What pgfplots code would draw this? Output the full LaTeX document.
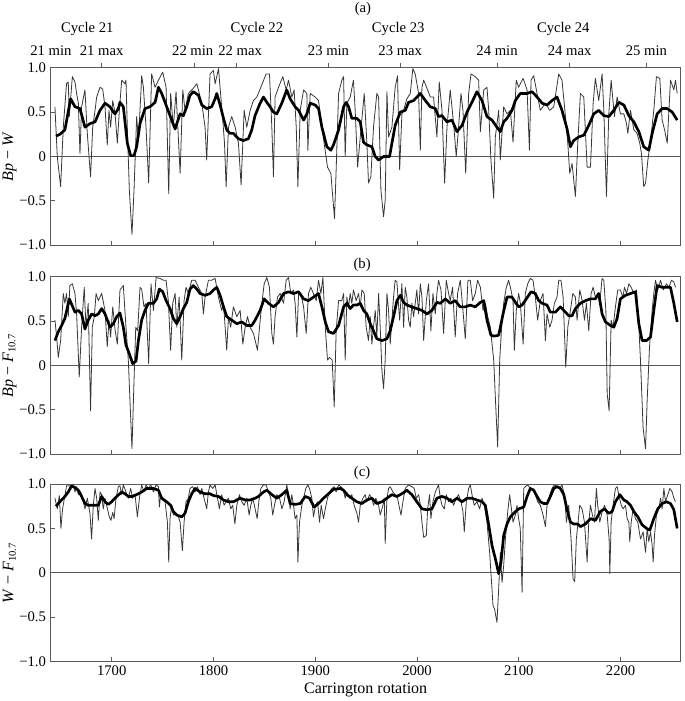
\documentclass[border=0pt]{standalone}
\usepackage{fontspec}
\setmainfont{Liberation Serif}
\usepackage{pgfplots}
\pgfplotsset{compat=1.18}
\definecolor{frame}{RGB}{90,90,90}
\definecolor{thinc}{RGB}{55,55,55}
\newcommand{\tfont}{\fontsize{11}{13}\selectfont}
\newcommand{\lfont}{\fontsize{12}{14}\selectfont}
\pgfplotsset{
  panel/.style={
    scale only axis, width=472.5pt, height=133.1pt,
    anchor=north west,
    xmin=1640, xmax=2259, ymin=-1, ymax=1,
    axis line style={frame, line width=0.7pt},
    tick align=inside, xtick pos=left, ytick pos=left,
    major tick length=3.2pt,
    tick style={frame, line width=0.7pt},
    xtick={1700,1800,1900,2000,2100,2200},
    xticklabels={},
    ytick={-1,-0.5,0,0.5,1},
    yticklabels={−1.0,−0.5,0,0.5,1.0},
    tick label style={font=\tfont},
    label style={font=\lfont},
    ylabel style={at={(axis description cs:-0.0654,0.5)}, anchor=center},
  },
  thinl/.style={thinc, line width=0.6pt, line join=round},
  thickl/.style={black, line width=2pt, line join=round},
  zerol/.style={frame, line width=0.6pt},
}
\begin{document}
\begin{tikzpicture}
\useasboundingbox (0,0) rectangle (513.75pt,-525.75pt);
% ---------------- (a)
\begin{axis}[panel, at={(38pt,-50.8pt)}, ylabel={\textit{Bp} − \textit{W}}]
\addplot[zerol] coordinates {(1640,0) (2259,0)};
\addplot[thinl] coordinates {(1644.2,0.56)(1646.5,0.00)(1649.8,-0.34)(1652.4,0.33)(1655.6,0.82)(1657.3,0.84)(1658.3,0.45)(1661.3,0.90)(1663.9,0.84)(1665.5,0.71)(1667.2,0.60)(1668.8,0.03)(1670.4,0.56)(1673.7,0.75)(1676.0,0.26)(1679.2,-0.23)(1681.3,0.33)(1683.6,0.52)(1685.2,0.67)(1688.5,0.78)(1691.1,0.76)(1693.4,0.56)(1695.6,0.13)(1697.3,0.52)(1698.9,0.33)(1701.0,0.63)(1703.3,0.48)(1705.5,0.15)(1707.5,0.52)(1709.8,0.86)(1713.0,0.82)(1714.0,0.86)(1715.3,0.33)(1717.3,-0.38)(1719.9,-0.88)(1721.9,-0.38)(1724.5,0.45)(1726.2,0.18)(1728.8,0.75)(1729.4,0.91)(1731.1,0.78)(1733.7,0.33)(1736.3,-0.30)(1739.2,0.93)(1742.6,0.78)(1745.9,0.86)(1750.1,0.95)(1753.4,0.78)(1756.0,-0.42)(1757.9,0.71)(1760.5,0.33)(1763.2,0.73)(1767.2,-0.19)(1769.8,0.75)(1772.0,0.52)(1775.3,0.71)(1779.5,0.76)(1783.6,0.82)(1788.5,0.60)(1791.7,0.33)(1793.3,-0.04)(1796.6,0.93)(1799.9,0.97)(1801.6,0.82)(1804.9,0.99)(1809.1,0.41)(1810.8,0.15)(1812.4,-0.34)(1814.7,0.33)(1817.9,0.45)(1821.3,0.33)(1824.5,0.15)(1827.1,-0.32)(1830.1,0.52)(1832.7,0.33)(1836.0,0.52)(1839.2,0.63)(1842.6,0.67)(1845.8,0.76)(1851.7,0.93)(1855.0,0.93)(1857.3,0.33)(1858.9,-0.23)(1860.5,0.67)(1863.9,0.78)(1868.1,0.90)(1871.4,0.75)(1873.7,0.86)(1876.9,0.67)(1879.2,0.75)(1881.3,0.33)(1882.9,-0.34)(1885.2,0.52)(1888.5,0.75)(1891.7,0.71)(1892.7,0.07)(1895.0,0.71)(1899.9,0.67)(1903.2,0.63)(1906.5,0.33)(1912.0,-0.12)(1915.3,-0.19)(1918.9,-0.70)(1920.5,-0.15)(1922.9,0.71)(1926.1,0.86)(1927.8,0.90)(1929.4,0.00)(1931.0,0.60)(1934.3,0.67)(1937.5,0.86)(1939.2,0.52)(1941.6,-0.12)(1944.2,0.22)(1948.1,0.71)(1950.7,0.15)(1952.3,-0.30)(1954.6,-0.23)(1957.2,0.33)(1960.5,0.71)(1962.2,0.67)(1964.5,-0.38)(1967.1,-0.68)(1968.7,-0.49)(1970.4,0.73)(1972.0,0.22)(1975.3,0.33)(1978.5,0.78)(1980.8,0.91)(1982.9,-0.15)(1985.1,0.48)(1986.8,0.52)(1990.0,0.65)(1993.3,0.71)(1995.9,0.99)(1998.2,0.93)(2001.5,0.71)(2003.2,0.07)(2004.8,0.78)(2006.5,0.86)(2010.4,0.75)(2013.0,0.67)(2016.2,0.67)(2019.5,0.22)(2021.8,0.84)(2024.5,0.52)(2027.1,-0.30)(2029.4,0.33)(2032.6,0.75)(2035.9,0.37)(2038.5,0.00)(2040.8,0.33)(2043.2,0.71)(2045.1,0.52)(2047.8,-0.19)(2050.7,0.71)(2053.0,0.93)(2057.2,0.90)(2060.5,0.86)(2062.2,0.28)(2065.5,0.75)(2068.7,0.78)(2070.4,0.52)(2072.6,-0.04)(2075.3,-0.47)(2076.9,0.22)(2080.2,0.52)(2081.8,-0.04)(2085.1,0.56)(2088.4,0.48)(2091.7,0.52)(2094.3,0.16)(2097.5,0.86)(2099.8,0.78)(2104.2,0.88)(2108.1,0.75)(2110.4,0.07)(2112.0,0.86)(2114.6,0.91)(2117.9,0.71)(2121.1,0.52)(2126.1,0.60)(2130.4,0.52)(2134.3,0.56)(2139.2,0.93)(2142.4,0.86)(2145.8,0.45)(2148.1,0.15)(2150.0,-0.19)(2152.3,-0.08)(2155.6,-0.45)(2157.9,0.15)(2160.5,0.71)(2163.8,0.67)(2167.1,-0.12)(2170.4,-0.12)(2173.0,0.60)(2175.2,0.88)(2178.5,0.63)(2181.8,0.93)(2183.5,0.52)(2186.1,-0.45)(2188.4,0.48)(2190.7,0.86)(2193.9,0.45)(2196.6,0.67)(2199.8,0.48)(2203.2,0.48)(2205.8,0.37)(2207.1,0.26)(2209.7,0.52)(2213.0,0.30)(2216.2,0.26)(2218.8,0.15)(2220.5,0.03)(2222.7,-0.34)(2224.5,-0.30)(2226.8,-0.04)(2229.4,0.18)(2232.6,0.52)(2235.2,0.90)(2238.5,0.88)(2240.8,0.41)(2243.2,0.30)(2245.8,0.15)(2249.0,0.86)(2252.3,0.75)(2253.9,0.86)(2255.6,0.71)};
\addplot[thickl] coordinates {(1645.2,0.23)(1649.1,0.25)(1654.0,0.30)(1659.6,0.65)(1663.9,0.56)(1668.8,0.54)(1673.7,0.33)(1678.6,0.37)(1683.6,0.39)(1688.5,0.52)(1693.4,0.60)(1698.3,0.56)(1701.6,0.50)(1703.3,0.48)(1706.5,0.54)(1708.1,0.61)(1711.4,0.56)(1715.3,0.15)(1718.6,0.01)(1721.9,0.01)(1724.5,0.11)(1727.8,0.37)(1732.7,0.54)(1737.6,0.56)(1742.6,0.61)(1745.9,0.78)(1749.1,0.71)(1754.0,0.56)(1758.9,0.41)(1762.3,0.31)(1763.9,0.37)(1767.2,0.48)(1770.4,0.46)(1773.7,0.56)(1776.9,0.69)(1780.2,0.73)(1785.2,0.69)(1788.5,0.58)(1793.3,0.54)(1798.2,0.56)(1801.6,0.65)(1803.2,0.71)(1806.5,0.58)(1809.8,0.43)(1813.0,0.30)(1816.3,0.26)(1819.5,0.26)(1824.5,0.20)(1829.4,0.18)(1834.3,0.20)(1837.6,0.30)(1840.8,0.46)(1845.8,0.60)(1849.1,0.67)(1852.4,0.61)(1855.6,0.56)(1858.9,0.50)(1862.2,0.48)(1867.1,0.60)(1872.0,0.75)(1875.3,0.65)(1880.2,0.56)(1883.6,0.52)(1888.5,0.41)(1891.7,0.48)(1895.0,0.60)(1899.9,0.58)(1903.2,0.54)(1906.5,0.33)(1911.4,0.11)(1915.3,0.07)(1917.9,0.13)(1922.9,0.30)(1927.8,0.56)(1930.4,0.61)(1932.7,0.56)(1935.9,0.43)(1940.8,0.43)(1944.2,0.39)(1947.4,0.16)(1950.7,0.13)(1955.6,0.11)(1958.9,0.00)(1962.2,-0.04)(1967.1,0.00)(1973.0,0.00)(1975.3,0.15)(1978.5,0.35)(1983.5,0.50)(1988.4,0.52)(1991.7,0.61)(1996.6,0.63)(2003.2,0.71)(2008.1,0.63)(2013.0,0.56)(2017.9,0.54)(2021.1,0.45)(2024.5,0.46)(2029.4,0.39)(2034.3,0.41)(2039.2,0.28)(2044.2,0.35)(2049.1,0.50)(2053.9,0.61)(2058.8,0.73)(2063.8,0.63)(2068.7,0.45)(2073.6,0.41)(2078.5,0.33)(2081.8,0.28)(2085.1,0.39)(2088.4,0.43)(2093.3,0.52)(2096.6,0.63)(2101.4,0.71)(2108.1,0.71)(2113.0,0.73)(2117.9,0.67)(2122.9,0.60)(2127.7,0.58)(2132.6,0.63)(2137.5,0.67)(2142.4,0.52)(2147.4,0.31)(2150.7,0.11)(2153.9,0.18)(2158.8,0.22)(2163.8,0.24)(2168.7,0.35)(2173.6,0.48)(2178.5,0.52)(2183.5,0.46)(2188.4,0.45)(2193.3,0.52)(2198.2,0.61)(2203.2,0.58)(2208.1,0.46)(2213.0,0.39)(2217.9,0.28)(2222.7,0.11)(2227.7,0.07)(2231.0,0.26)(2235.9,0.48)(2240.8,0.54)(2245.8,0.54)(2250.7,0.50)(2255.6,0.41)};
\end{axis}
% overlay axis with cycle marks for (a)
\begin{axis}[scale only axis, width=472.5pt, height=133.1pt, anchor=north west,
  at={(38pt,-50.8pt)}, xmin=1640, xmax=2259, ymin=-1, ymax=1,
  hide y axis, axis x line*=top, axis line style={draw=none},
  tick align=outside, major tick length=3.2pt, tick style={frame, line width=0.7pt},
  xtick={1690.1,1780.9,1822.9,1913.0,1983.5,2078.6,2149.9,2225.3},
  xticklabels={}, clip=false]
\node[anchor=base, font=\tfont, yshift=9.5pt] at (axis cs:1640.2,1) {21 min};
\node[anchor=base, font=\tfont, yshift=9.5pt] at (axis cs:1690.1,1) {21 max};
\node[anchor=base, font=\tfont, yshift=9.5pt] at (axis cs:1779.6,1) {22 min};
\node[anchor=base, font=\tfont, yshift=9.5pt] at (axis cs:1826.1,1) {22 max};
\node[anchor=base, font=\tfont, yshift=9.5pt] at (axis cs:1913.0,1) {23 min};
\node[anchor=base, font=\tfont, yshift=9.5pt] at (axis cs:1983.5,1) {23 max};
\node[anchor=base, font=\tfont, yshift=9.5pt] at (axis cs:2078.6,1) {24 min};
\node[anchor=base, font=\tfont, yshift=9.5pt] at (axis cs:2149.9,1) {24 max};
\node[anchor=base, font=\tfont, yshift=9.5pt] at (axis cs:2225.3,1) {25 min};
\node[anchor=base, font=\tfont, yshift=26.8pt] at (axis cs:1676.0,1) {Cycle 21};
\node[anchor=base, font=\tfont, yshift=26.8pt] at (axis cs:1842.6,1) {Cycle 22};
\node[anchor=base, font=\tfont, yshift=26.8pt] at (axis cs:1981.5,1) {Cycle 23};
\node[anchor=base, font=\tfont, yshift=26.8pt] at (axis cs:2143.7,1) {Cycle 24};
\node[anchor=base, font=\tfont, yshift=41.5pt] at (axis cs:1946.8,1) {(a)};
\end{axis}
% ---------------- (b)
\begin{axis}[panel, at={(38pt,-207.5pt)}, ylabel={\textit{Bp} − \textit{F}\textsubscript{10.7}}, clip=false]
\addplot[zerol] coordinates {(1640,0) (2259,0)};
\addplot[thinl] coordinates {(1644.2,0.51)(1645.9,0.32)(1647.5,0.09)(1649.8,0.28)(1652.4,0.81)(1654.0,0.70)(1655.6,0.81)(1657.3,0.55)(1658.9,0.90)(1661.3,0.92)(1663.9,0.81)(1665.5,0.58)(1668.1,-0.13)(1670.4,0.43)(1673.0,0.88)(1674.7,0.43)(1676.9,0.70)(1679.2,-0.51)(1680.9,0.43)(1682.9,0.55)(1684.6,0.81)(1686.8,0.73)(1690.1,0.81)(1693.4,0.62)(1695.6,0.21)(1697.3,0.51)(1698.9,0.32)(1701.0,0.66)(1703.3,0.40)(1705.5,0.24)(1708.1,0.85)(1711.4,0.90)(1714.0,0.43)(1716.3,0.06)(1717.9,-0.39)(1719.9,-0.94)(1721.9,-0.17)(1723.6,0.43)(1725.5,0.39)(1727.8,0.88)(1729.4,0.86)(1731.7,0.66)(1733.7,0.70)(1736.3,0.02)(1738.6,0.92)(1741.0,0.62)(1743.6,0.99)(1747.5,0.98)(1750.7,0.96)(1753.4,0.96)(1755.6,0.73)(1757.9,0.17)(1759.9,0.70)(1762.3,0.81)(1763.9,0.43)(1766.2,0.77)(1768.8,0.06)(1771.1,0.73)(1773.0,0.88)(1775.3,0.81)(1778.6,0.96)(1781.9,0.96)(1785.2,0.88)(1788.5,0.81)(1790.1,0.58)(1791.7,0.77)(1795.0,0.96)(1798.2,0.96)(1801.6,0.98)(1804.8,0.77)(1808.1,0.62)(1809.8,0.70)(1813.0,0.17)(1814.7,0.55)(1816.9,0.43)(1819.5,0.66)(1822.9,0.55)(1826.2,0.62)(1828.8,0.24)(1831.1,0.43)(1833.4,0.55)(1836.0,0.43)(1839.2,0.36)(1841.0,0.28)(1843.2,0.17)(1845.2,0.43)(1847.5,0.70)(1849.8,0.92)(1852.4,0.99)(1855.0,0.88)(1857.3,0.36)(1858.9,0.24)(1860.5,0.55)(1862.9,0.77)(1865.5,0.81)(1868.8,0.70)(1871.4,0.96)(1873.7,0.99)(1876.0,0.81)(1878.6,0.85)(1880.2,0.70)(1881.9,0.32)(1883.6,0.81)(1885.8,0.81)(1888.5,0.66)(1891.1,0.36)(1893.3,0.81)(1895.6,0.88)(1898.2,0.81)(1900.9,0.73)(1903.2,0.96)(1905.5,0.81)(1907.5,0.99)(1909.8,0.43)(1912.0,0.06)(1914.0,0.09)(1916.6,0.06)(1918.6,-0.47)(1920.5,0.39)(1922.9,0.73)(1926.1,0.73)(1927.8,0.81)(1929.4,0.06)(1931.0,0.77)(1932.7,0.66)(1934.3,0.81)(1935.9,0.70)(1937.5,0.85)(1940.2,0.73)(1942.5,0.81)(1944.2,0.66)(1945.8,0.85)(1948.1,0.81)(1950.0,0.43)(1952.3,0.28)(1954.0,0.55)(1955.6,0.24)(1957.2,0.43)(1958.9,0.62)(1960.5,0.32)(1962.2,0.81)(1963.8,0.43)(1965.5,-0.06)(1967.1,-0.26)(1968.7,0.06)(1970.4,0.81)(1972.0,0.62)(1973.6,0.24)(1976.9,0.77)(1978.5,0.96)(1980.2,0.94)(1982.9,0.51)(1985.1,0.92)(1986.8,0.43)(1988.4,0.88)(1990.0,0.77)(1991.7,0.51)(1993.3,0.43)(1994.9,0.70)(1996.6,0.55)(1999.8,0.85)(2001.5,0.58)(2003.2,0.92)(2004.8,0.77)(2006.5,0.28)(2009.1,0.73)(2011.3,0.92)(2013.6,0.39)(2015.6,0.81)(2017.9,0.58)(2019.5,0.81)(2021.1,0.96)(2023.5,0.85)(2026.1,0.36)(2028.7,0.96)(2031.0,0.81)(2032.6,0.73)(2034.9,0.88)(2037.5,0.32)(2039.8,0.81)(2042.5,0.96)(2044.8,0.66)(2047.4,0.30)(2050.0,0.96)(2052.3,0.96)(2054.6,0.73)(2057.2,0.81)(2059.5,0.96)(2062.2,0.88)(2064.8,0.62)(2067.1,0.70)(2069.4,0.55)(2072.0,0.43)(2075.3,0.06)(2077.2,-0.43)(2079.2,-0.92)(2081.2,0.06)(2083.5,0.51)(2085.1,0.70)(2087.7,0.88)(2090.0,0.96)(2092.3,0.85)(2094.3,0.73)(2095.6,0.17)(2097.5,0.62)(2099.8,0.81)(2101.5,0.70)(2104.2,0.24)(2106.4,0.81)(2108.7,0.92)(2111.3,0.98)(2113.9,0.96)(2116.2,0.77)(2118.5,0.51)(2121.1,0.73)(2123.8,0.81)(2126.1,0.28)(2127.7,0.58)(2130.4,0.43)(2132.6,0.51)(2134.9,0.70)(2137.5,0.77)(2139.2,0.96)(2141.4,0.96)(2143.5,0.77)(2146.1,-0.02)(2148.1,0.43)(2150.7,0.62)(2153.0,0.81)(2155.6,0.77)(2157.2,0.51)(2159.9,0.85)(2162.2,0.73)(2164.5,0.51)(2166.4,0.70)(2168.7,0.39)(2171.0,0.81)(2173.0,0.88)(2175.2,0.77)(2177.5,0.81)(2179.5,0.70)(2181.8,0.98)(2183.5,0.96)(2185.5,0.62)(2186.8,-0.32)(2188.7,-0.51)(2190.7,0.51)(2192.6,0.43)(2194.9,0.66)(2197.2,0.85)(2199.8,0.85)(2202.2,0.77)(2203.8,0.88)(2205.8,0.81)(2208.1,0.92)(2210.4,0.88)(2213.0,0.81)(2215.6,0.85)(2217.8,0.47)(2219.5,0.06)(2222.1,-0.70)(2224.5,-0.94)(2226.1,-0.39)(2228.4,0.21)(2231.0,0.62)(2232.6,0.81)(2234.3,0.96)(2236.5,0.85)(2239.2,0.96)(2241.9,0.85)(2245.1,0.92)(2247.4,0.88)(2250.0,0.96)(2252.3,0.94)(2253.9,0.88)};
\addplot[thickl] coordinates {(1644.2,0.28)(1647.5,0.38)(1650.8,0.45)(1654.0,0.53)(1658.3,0.75)(1660.6,0.69)(1663.9,0.60)(1667.2,0.62)(1670.4,0.58)(1673.7,0.41)(1676.9,0.51)(1680.3,0.58)(1683.6,0.56)(1686.8,0.58)(1690.1,0.64)(1693.4,0.58)(1698.3,0.43)(1701.6,0.47)(1704.9,0.55)(1708.1,0.59)(1711.4,0.43)(1714.0,0.23)(1717.3,0.13)(1720.6,0.02)(1723.9,0.05)(1726.2,0.28)(1729.4,0.51)(1732.7,0.62)(1736.0,0.70)(1741.0,0.70)(1744.2,0.75)(1746.8,0.86)(1750.1,0.83)(1753.4,0.73)(1757.3,0.64)(1760.5,0.53)(1763.9,0.47)(1767.2,0.55)(1770.4,0.64)(1773.7,0.71)(1776.9,0.86)(1780.2,0.90)(1783.6,0.86)(1786.8,0.81)(1791.7,0.79)(1796.6,0.81)(1799.9,0.85)(1803.2,0.88)(1806.5,0.79)(1809.8,0.66)(1813.0,0.55)(1817.9,0.51)(1822.9,0.47)(1827.8,0.49)(1832.7,0.45)(1837.6,0.45)(1840.9,0.51)(1845.8,0.62)(1849.8,0.75)(1854.0,0.70)(1858.9,0.66)(1863.9,0.71)(1868.8,0.81)(1873.7,0.83)(1878.6,0.81)(1883.6,0.83)(1888.5,0.75)(1893.3,0.73)(1898.2,0.77)(1903.2,0.81)(1906.5,0.66)(1909.8,0.49)(1913.0,0.38)(1917.9,0.36)(1922.9,0.45)(1927.8,0.66)(1931.0,0.70)(1934.3,0.64)(1937.5,0.68)(1940.8,0.68)(1944.2,0.70)(1947.4,0.62)(1950.7,0.58)(1954.0,0.47)(1957.2,0.39)(1960.5,0.30)(1965.5,0.28)(1970.4,0.30)(1973.6,0.39)(1976.9,0.55)(1980.2,0.73)(1983.5,0.79)(1986.8,0.71)(1990.0,0.68)(1994.9,0.66)(1999.8,0.64)(2004.8,0.62)(2009.7,0.58)(2014.6,0.62)(2019.5,0.71)(2022.9,0.70)(2027.8,0.75)(2032.6,0.70)(2037.5,0.73)(2042.4,0.66)(2047.4,0.66)(2052.3,0.68)(2057.2,0.66)(2062.2,0.71)(2065.5,0.73)(2068.7,0.51)(2072.6,0.34)(2075.9,0.33)(2080.2,0.34)(2084.5,0.58)(2088.4,0.77)(2093.3,0.77)(2096.6,0.71)(2099.8,0.66)(2103.2,0.68)(2107.4,0.75)(2112.0,0.83)(2116.2,0.81)(2119.5,0.73)(2122.9,0.70)(2127.7,0.68)(2131.0,0.60)(2135.9,0.60)(2140.8,0.66)(2145.8,0.60)(2149.0,0.56)(2152.3,0.56)(2155.6,0.64)(2160.5,0.70)(2165.5,0.73)(2170.4,0.75)(2175.2,0.75)(2178.5,0.81)(2181.8,0.58)(2185.1,0.49)(2190.0,0.45)(2193.3,0.43)(2196.6,0.53)(2199.8,0.75)(2204.8,0.79)(2209.7,0.81)(2214.6,0.83)(2217.9,0.47)(2221.1,0.28)(2225.5,0.28)(2229.4,0.32)(2232.6,0.62)(2235.9,0.90)(2240.8,0.88)(2245.8,0.88)(2249.0,0.88)(2252.3,0.70)(2255.6,0.49)};
\node[anchor=base, font=\tfont, yshift=6pt] at (axis cs:1946,1) {(b)};
\end{axis}
% ---------------- (c)
\begin{axis}[panel, at={(38pt,-363pt)}, ylabel={\textit{W} − \textit{F}\textsubscript{10.7}}, clip=false,
  xticklabels={1700,1800,1900,2000,2100,2200},
  xlabel={Carrington rotation},
  xlabel style={at={(axis description cs:0.5,0)}, anchor=center, yshift=-21.2pt}]
\addplot[zerol] coordinates {(1640,0) (2259,0)};
\addplot[thinl] coordinates {(1644.2,0.84)(1646.5,0.72)(1648.5,0.87)(1650.1,0.50)(1651.7,0.72)(1654.0,0.87)(1655.6,0.98)(1658.3,0.98)(1660.6,0.97)(1662.3,0.98)(1663.9,0.91)(1665.5,0.97)(1667.2,0.88)(1669.4,0.91)(1671.4,0.84)(1673.7,0.72)(1676.0,0.84)(1678.6,0.67)(1680.2,0.38)(1681.9,0.76)(1683.6,0.95)(1685.2,0.84)(1686.8,0.59)(1688.5,0.91)(1690.1,0.88)(1691.7,0.72)(1693.4,0.84)(1695.0,0.76)(1697.6,0.63)(1699.2,0.59)(1701.0,0.68)(1702.3,0.61)(1704.2,0.84)(1706.5,0.97)(1708.1,0.98)(1709.8,0.88)(1711.4,0.99)(1714.0,0.91)(1716.3,0.84)(1718.6,0.95)(1720.5,0.84)(1722.9,0.88)(1725.2,0.63)(1727.2,0.84)(1729.4,0.99)(1731.7,0.91)(1733.7,0.99)(1736.0,0.95)(1738.3,0.99)(1741.0,0.91)(1743.6,0.99)(1745.9,0.97)(1746.8,0.74)(1748.1,0.88)(1750.1,0.82)(1752.4,0.80)(1754.7,0.57)(1756.0,0.12)(1757.3,0.61)(1758.9,0.76)(1760.5,0.65)(1763.2,0.67)(1765.5,0.63)(1767.2,0.57)(1769.4,0.25)(1771.1,0.57)(1773.0,0.80)(1775.3,0.84)(1776.9,0.95)(1779.5,0.97)(1781.9,0.91)(1784.2,0.97)(1786.8,0.88)(1788.5,0.95)(1790.7,0.84)(1793.3,0.72)(1795.0,0.91)(1796.6,0.99)(1799.2,0.95)(1801.6,0.99)(1803.9,0.84)(1805.8,0.72)(1808.1,0.88)(1810.4,0.76)(1812.4,0.80)(1814.7,0.84)(1816.9,0.72)(1818.9,0.76)(1821.0,0.55)(1822.9,0.76)(1825.5,0.88)(1827.8,0.80)(1830.1,0.76)(1832.7,0.84)(1835.0,0.65)(1836.6,0.76)(1838.6,0.84)(1840.9,0.72)(1842.9,0.61)(1844.5,0.80)(1846.5,0.95)(1849.1,0.99)(1851.7,0.99)(1854.0,0.91)(1856.3,0.84)(1858.2,0.65)(1859.9,0.76)(1862.2,0.88)(1864.9,0.84)(1867.2,0.72)(1869.4,0.80)(1872.0,0.99)(1873.7,0.88)(1875.3,0.72)(1876.9,0.88)(1878.6,0.76)(1880.2,0.61)(1881.9,0.65)(1882.9,0.12)(1884.5,0.57)(1886.8,0.76)(1888.5,0.84)(1890.7,0.95)(1892.7,0.99)(1894.3,0.95)(1896.6,0.84)(1898.2,0.63)(1900.3,0.76)(1902.2,0.80)(1904.2,0.57)(1905.8,0.76)(1908.1,0.61)(1909.8,0.72)(1912.0,0.84)(1914.0,0.91)(1916.3,0.95)(1918.6,0.97)(1920.5,0.91)(1922.9,0.99)(1927.1,0.95)(1929.4,0.84)(1931.0,0.91)(1933.6,0.84)(1935.9,0.88)(1938.2,0.76)(1940.9,0.67)(1942.5,0.57)(1944.2,0.76)(1946.8,0.84)(1949.1,0.88)(1950.7,0.80)(1953.3,0.88)(1955.6,0.84)(1957.2,0.76)(1959.5,0.84)(1962.2,0.76)(1963.8,0.65)(1966.5,0.76)(1967.8,0.84)(1968.7,0.33)(1970.4,0.84)(1972.0,0.95)(1973.6,0.97)(1976.2,0.91)(1978.5,0.88)(1980.8,0.84)(1982.9,0.72)(1984.2,0.65)(1986.1,0.80)(1988.4,0.95)(1991.7,0.99)(1994.9,0.97)(1997.2,0.95)(1999.2,0.84)(2001.6,0.88)(2003.2,0.76)(2004.8,0.57)(2006.5,0.40)(2009.1,0.42)(2010.4,0.72)(2012.3,0.88)(2013.6,0.61)(2015.6,0.80)(2017.9,0.91)(2019.5,0.95)(2021.1,0.99)(2022.9,0.84)(2024.5,0.76)(2026.8,0.72)(2028.7,0.88)(2031.0,0.80)(2033.3,0.84)(2035.9,0.76)(2038.5,0.84)(2040.8,0.88)(2043.2,0.80)(2045.1,0.69)(2046.4,0.46)(2048.4,0.80)(2050.7,0.95)(2052.3,0.99)(2054.6,0.84)(2056.2,0.76)(2058.8,0.80)(2061.5,0.72)(2063.8,0.84)(2066.1,0.76)(2068.7,0.57)(2071.3,0.23)(2073.6,-0.18)(2074.6,-0.37)(2076.2,-0.41)(2078.5,-0.56)(2080.2,-0.18)(2081.8,0.23)(2083.5,-0.11)(2085.1,0.08)(2086.8,0.38)(2089.1,0.69)(2091.0,0.88)(2092.3,0.76)(2094.3,0.57)(2096.6,0.65)(2098.2,0.76)(2099.8,0.61)(2101.4,0.50)(2103.2,-0.22)(2104.8,0.95)(2106.4,0.97)(2108.7,0.99)(2111.3,0.95)(2113.9,0.95)(2116.2,0.88)(2118.5,0.80)(2121.1,0.76)(2123.8,0.65)(2126.1,0.52)(2127.7,0.76)(2130.4,0.88)(2132.6,0.95)(2134.9,0.99)(2137.5,0.97)(2140.1,0.95)(2142.4,0.99)(2144.8,0.88)(2146.8,0.57)(2149.0,0.76)(2151.3,0.38)(2153.3,-0.07)(2154.9,-0.10)(2156.5,0.38)(2158.2,0.57)(2159.8,0.76)(2162.1,0.72)(2164.5,0.57)(2167.1,0.12)(2168.7,0.57)(2170.4,0.76)(2172.3,0.65)(2174.3,0.57)(2176.2,0.95)(2177.5,0.76)(2179.5,0.57)(2181.9,0.69)(2184.2,0.76)(2186.8,0.65)(2188.7,0.38)(2189.4,-0.01)(2190.7,0.57)(2192.6,0.76)(2194.9,0.95)(2196.6,0.97)(2198.2,0.88)(2200.6,0.76)(2202.5,0.72)(2204.8,0.76)(2206.4,0.61)(2208.1,0.57)(2209.0,0.35)(2210.4,0.57)(2212.3,0.72)(2214.6,0.61)(2216.9,0.57)(2219.5,0.38)(2222.1,0.46)(2224.5,0.23)(2226.1,0.50)(2227.7,0.35)(2229.4,0.46)(2231.0,0.31)(2232.0,0.12)(2233.3,0.42)(2235.2,0.65)(2237.5,0.72)(2239.3,0.84)(2240.8,0.72)(2242.5,0.95)(2244.1,0.80)(2246.4,0.88)(2248.4,0.95)(2250.7,0.91)(2252.3,0.84)(2253.9,0.80)};
\addplot[thickl] coordinates {(1645.2,0.75)(1649.1,0.80)(1654.0,0.86)(1657.3,0.91)(1660.6,0.98)(1663.9,0.96)(1667.2,0.93)(1670.4,0.86)(1673.7,0.78)(1676.9,0.76)(1681.9,0.76)(1686.8,0.76)(1690.1,0.86)(1693.4,0.80)(1696.6,0.77)(1699.9,0.80)(1704.9,0.86)(1709.8,0.91)(1713.0,0.89)(1716.3,0.86)(1719.6,0.86)(1724.5,0.88)(1729.4,0.91)(1734.3,0.95)(1741.0,0.95)(1745.9,0.93)(1749.1,0.84)(1754.0,0.80)(1757.9,0.76)(1760.5,0.69)(1763.9,0.65)(1768.8,0.63)(1772.0,0.67)(1775.3,0.80)(1778.6,0.89)(1781.9,0.95)(1786.8,0.91)(1791.7,0.89)(1796.6,0.89)(1799.9,0.87)(1804.9,0.86)(1809.8,0.82)(1814.7,0.80)(1819.5,0.80)(1826.2,0.84)(1831.1,0.82)(1836.0,0.82)(1840.9,0.84)(1844.2,0.86)(1849.1,0.91)(1852.4,0.93)(1857.3,0.88)(1862.2,0.84)(1867.1,0.88)(1872.0,0.93)(1875.3,0.78)(1880.2,0.77)(1885.2,0.78)(1890.1,0.86)(1894.3,0.84)(1898.9,0.74)(1903.2,0.78)(1908.1,0.84)(1913.0,0.89)(1917.9,0.94)(1924.5,0.95)(1927.8,0.93)(1931.0,0.88)(1935.9,0.84)(1940.8,0.80)(1945.8,0.78)(1950.7,0.82)(1955.6,0.84)(1960.5,0.78)(1965.5,0.80)(1970.4,0.84)(1975.3,0.88)(1980.2,0.86)(1985.1,0.89)(1990.0,0.93)(1994.9,0.88)(1999.8,0.80)(2004.8,0.72)(2009.7,0.71)(2014.6,0.72)(2019.5,0.84)(2024.5,0.86)(2029.4,0.84)(2034.3,0.80)(2039.2,0.84)(2044.2,0.80)(2049.1,0.84)(2053.9,0.84)(2058.8,0.82)(2063.8,0.80)(2067.1,0.76)(2070.4,0.54)(2073.6,0.31)(2076.9,0.16)(2080.2,-0.01)(2082.5,0.12)(2085.1,0.42)(2088.4,0.55)(2091.7,0.63)(2094.9,0.67)(2099.8,0.72)(2104.8,0.74)(2108.1,0.86)(2111.3,0.95)(2114.6,0.93)(2117.9,0.86)(2121.1,0.80)(2124.5,0.78)(2127.7,0.78)(2131.0,0.86)(2134.3,0.95)(2137.5,0.97)(2140.8,0.95)(2144.2,0.88)(2147.4,0.71)(2150.7,0.57)(2153.9,0.55)(2157.9,0.55)(2160.5,0.52)(2165.5,0.55)(2170.4,0.61)(2175.2,0.59)(2180.1,0.69)(2184.2,0.72)(2188.4,0.67)(2191.7,0.69)(2194.9,0.80)(2199.2,0.88)(2203.2,0.82)(2206.4,0.80)(2209.7,0.76)(2213.0,0.69)(2216.9,0.63)(2221.1,0.54)(2225.5,0.50)(2228.7,0.48)(2232.6,0.61)(2236.5,0.72)(2240.8,0.78)(2245.1,0.80)(2249.0,0.78)(2252.3,0.71)(2255.6,0.50)};
\node[anchor=base, font=\tfont, yshift=6pt] at (axis cs:1946,1) {(c)};
\end{axis}
\end{tikzpicture}
\end{document}
